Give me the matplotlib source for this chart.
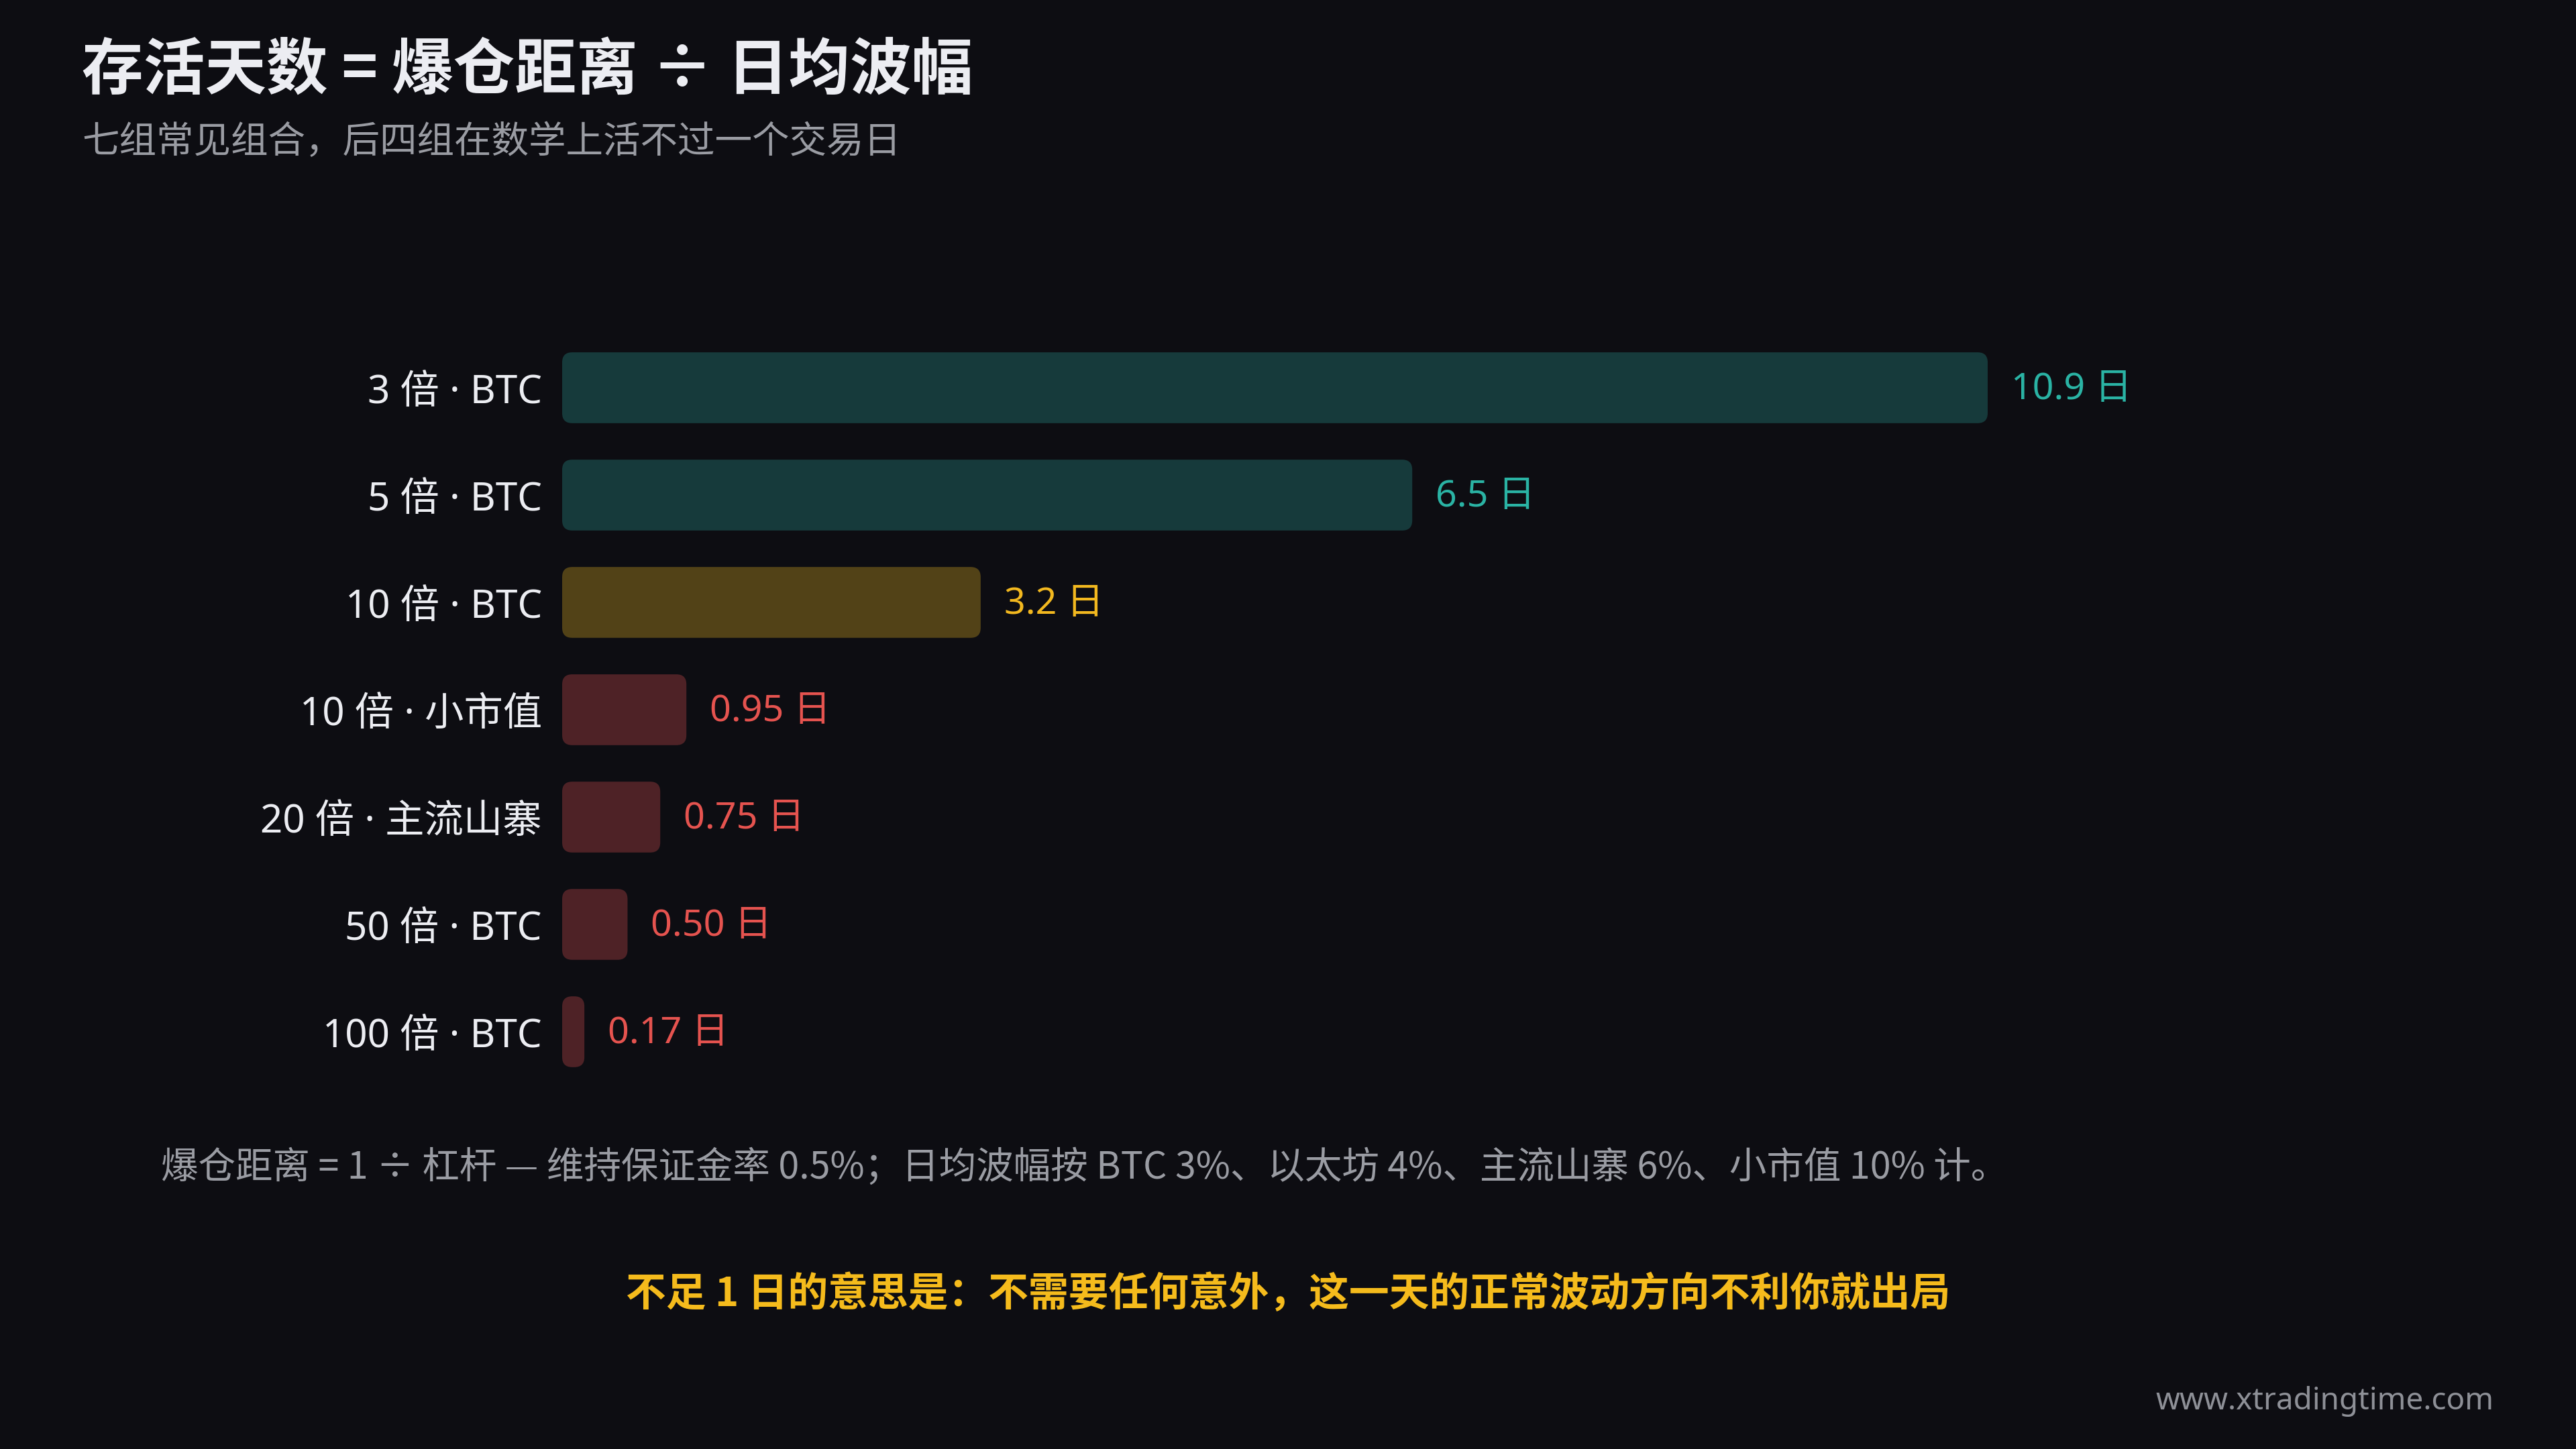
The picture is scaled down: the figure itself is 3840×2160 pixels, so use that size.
import matplotlib
matplotlib.use("Agg")
import matplotlib.pyplot as plt
from matplotlib.patches import FancyBboxPatch

plt.rcParams['font.family'] = ['Noto Sans CJK SC', 'DejaVu Sans']

# ---- data ----
categories = ["3 倍 · BTC", "5 倍 · BTC", "10 倍 · BTC", "10 倍 · 小市值",
              "20 倍 · 主流山寨", "50 倍 · BTC", "100 倍 · BTC"]
days = [10.9, 6.5, 3.2, 0.95, 0.75, 0.50, 0.17]
value_labels = ["10.9 日", "6.5 日", "3.2 日", "0.95 日", "0.75 日", "0.50 日", "0.17 日"]
tiers = ["safe", "safe", "warn", "danger", "danger", "danger", "danger"]

title = "存活天数 = 爆仓距离 ÷ 日均波幅"
subtitle = "七组常见组合，后四组在数学上活不过一个交易日"
footnote = "爆仓距离 = 1 ÷ 杠杆 — 维持保证金率 0.5%；日均波幅按 BTC 3%、以太坊 4%、主流山寨 6%、小市值 10% 计。"
callout = "不足 1 日的意思是：不需要任何意外，这一天的正常波动方向不利你就出局"
watermark = "www.xtradingtime.com"

# ---- style ----
BG = "#0d0d12"
bar_colors = {"safe": "#163a3b", "warn": "#524217", "danger": "#4e2226"}
text_colors = {"safe": "#2ab3a4", "warn": "#f2b81f", "danger": "#e5534f"}
LAT = ['Noto Sans', 'Noto Sans CJK SC', 'DejaVu Sans']
W, H = 3840, 2160
fig = plt.figure(figsize=(W / 100, H / 100), dpi=100, facecolor=BG)

x0_px, x1_px = 838, 2963
top_px, bot_px = 498, 1618
ax = fig.add_axes([x0_px / W, 1 - bot_px / H, (x1_px - x0_px) / W, (bot_px - top_px) / H])
ax.set_facecolor(BG)
ax.set_xlim(0, max(days))
ax.set_ylim(len(categories) - 0.5, -0.5)
for s in ax.spines.values():
    s.set_visible(False)
ax.set_xticks([])

ypos = list(range(len(categories)))
bar_h = 0.66
bars = ax.barh(ypos, days, height=bar_h, color="none")
px_per_x = (x1_px - x0_px) / max(days)
px_per_y = (bot_px - top_px) / len(categories)
r = 15 / px_per_x
asp = px_per_x / px_per_y
for b, t in zip(bars, tiers):
    b.set_visible(False)
    p = FancyBboxPatch((b.get_x(), b.get_y()), b.get_width(), b.get_height(),
                       boxstyle=f"round,pad=0,rounding_size={r}",
                       mutation_aspect=asp, facecolor=bar_colors[t], edgecolor="none")
    ax.add_patch(p)

ax.set_yticks(ypos)
ax.set_yticklabels(categories, fontsize=42, color="#ecedf2", family=LAT)
ax.tick_params(axis="y", length=0, pad=21.6)

for y, v, lab, t in zip(ypos, days, value_labels, tiers):
    ax.annotate(lab, xy=(v, y), xytext=(25, -2), textcoords="offset points",
                ha="left", va="center", fontsize=40, color=text_colors[t],
                fontweight="medium", family=LAT, annotation_clip=False)

# ---- text ----
fig.text(122 / W, 1 - 107 / H, title, fontsize=66, fontweight="bold",
         color="#ecedf2", ha="left", va="center")
fig.text(122 / W, 1 - 212 / H, subtitle, fontsize=40, color="#9a9ca3",
         ha="left", va="center")
fig.text(240 / W, 1 - 1741 / H, footnote, fontsize=40, color="#9a9ca3",
         ha="left", va="center")
fig.text(1920 / W, 1 - 1930 / H, callout, fontsize=43, fontweight="bold",
         color="#f5bb1c", ha="center", va="center")
fig.text(3718 / W, 1 - 2089 / H, watermark, fontsize=33, color="#8e9097",
         ha="right", va="center", family=["Noto Sans", "DejaVu Sans"], fontweight="light")

fig.savefig("out.png", dpi=100, facecolor=BG)
